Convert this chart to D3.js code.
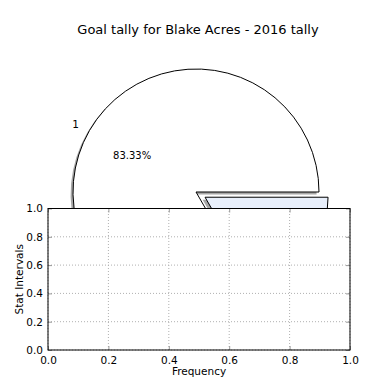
<!DOCTYPE html>
<html lang="en">
<head>
    <title>Goal tally pie</title>
    <script src="https://d3js.org/d3.v7.min.js"></script>
    <style>
        body { margin: 0; background: #fff; }
        text { font-family: "DejaVu Sans", sans-serif; fill: #000; }
    </style>
</head>
<body>
    <div id="chart"></div>

    <script>
        // Pie data
        const categories = ["1", "0"];
        const values = [5, 1];
        const colors = ["#ffffff", "#e8effb"];
        const explode = [0, 0.085];

        // Empty axes ticks
        const xTicks = [0, 0.2, 0.4, 0.6, 0.8, 1.0];
        const yTicks = [0, 0.2, 0.4, 0.6, 0.8, 1.0];

        const width = 390;
        const height = 390;

        const svg = d3.select("#chart")
            .append("svg")
            .attr("width", width)
            .attr("height", height);

        // Title
        svg.append("text")
            .attr("x", 198)
            .attr("y", 33.5)
            .attr("text-anchor", "middle")
            .style("font-size", "13px")
            .text("Goal tally for Blake Acres - 2016 tally");

        // Pie (drawn first, the axes cover its lower half)
        const cx = 196, cy = 192, r = 123;
        const total = d3.sum(values);

        // matplotlib starts at 3 o'clock and runs counter-clockwise
        const pie = d3.pie()
            .sort(null)
            .startAngle(Math.PI / 2)
            .endAngle(Math.PI / 2 - 2 * Math.PI);

        const arcs = pie(values);
        const arc = d3.arc().innerRadius(0).outerRadius(r);

        const pieG = svg.append("g");

        arcs.forEach((a, i) => {
            const mid = (a.startAngle + a.endAngle) / 2;
            const ox = Math.sin(mid) * explode[i] * r;
            const oy = -Math.cos(mid) * explode[i] * r;

            // shadow
            pieG.append("path")
                .attr("transform", `translate(${cx + ox - 2.4},${cy + oy + 2.4})`)
                .attr("d", arc(a))
                .attr("fill", "#4d4d4d")
                .attr("fill-opacity", 0.5);

            // wedge
            pieG.append("path")
                .attr("transform", `translate(${cx + ox},${cy + oy})`)
                .attr("d", arc(a))
                .attr("fill", colors[i])
                .attr("stroke", "#000")
                .attr("stroke-width", 1);

            // label
            pieG.append("text")
                .attr("x", cx + ox + Math.sin(mid) * 1.1 * r)
                .attr("y", cy + oy - Math.cos(mid) * 1.1 * r)
                .attr("text-anchor", Math.sin(mid) < 0 ? "end" : "start")
                .attr("dominant-baseline", "central")
                .style("font-size", "10.5px")
                .text(categories[i]);

            // percentage
            pieG.append("text")
                .attr("x", cx + ox + Math.sin(mid) * 0.6 * r)
                .attr("y", cy + oy - Math.cos(mid) * 0.6 * r)
                .attr("text-anchor", "middle")
                .attr("dominant-baseline", "central")
                .style("font-size", "10px")
                .text((values[i] / total * 100).toFixed(2) + "%");
        });

        // Axes
        const x = d3.scaleLinear().domain([0, 1]).range([48, 350]);
        const y = d3.scaleLinear().domain([0, 1]).range([350, 208.5]);

        const axG = svg.append("g");

        axG.append("rect")
            .attr("x", x(0))
            .attr("y", y(1))
            .attr("width", x(1) - x(0))
            .attr("height", y(0) - y(1))
            .attr("fill", "#fff");

        // dotted grid
        axG.selectAll(".gx")
            .data(xTicks)
            .enter()
            .append("line")
            .attr("x1", d => x(d)).attr("x2", d => x(d))
            .attr("y1", y(0)).attr("y2", y(1))
            .attr("stroke", "#b0b0b0")
            .attr("stroke-dasharray", "1,2");

        axG.selectAll(".gy")
            .data(yTicks)
            .enter()
            .append("line")
            .attr("y1", d => y(d)).attr("y2", d => y(d))
            .attr("x1", x(0)).attr("x2", x(1))
            .attr("stroke", "#b0b0b0")
            .attr("stroke-dasharray", "1,2");

        // inward ticks on all sides
        const tickColor = "#999";
        const axBottom = axG.append("g")
            .attr("transform", `translate(0,${y(0)})`)
            .call(d3.axisBottom(x).tickValues(xTicks).tickSize(-4).tickPadding(7).tickFormat(d3.format(".1f")));
        const axLeft = axG.append("g")
            .attr("transform", `translate(${x(0)},0)`)
            .call(d3.axisLeft(y).tickValues(yTicks).tickSize(-4).tickPadding(5).tickFormat(d3.format(".1f")));
        const axTop = axG.append("g")
            .attr("transform", `translate(0,${y(1)})`)
            .call(d3.axisTop(x).tickValues(xTicks).tickSize(-4).tickFormat(""));
        const axRight = axG.append("g")
            .attr("transform", `translate(${x(1)},0)`)
            .call(d3.axisRight(y).tickValues(yTicks).tickSize(-4).tickFormat(""));

        [axBottom, axLeft, axTop, axRight].forEach(g => {
            g.select(".domain").remove();
            g.selectAll(".tick line").attr("stroke", tickColor);
            g.selectAll(".tick text")
                .style("font-family", "DejaVu Sans, sans-serif")
                .style("font-size", "10.5px")
                .attr("fill", "#000");
        });

        // frame
        axG.append("rect")
            .attr("x", x(0))
            .attr("y", y(1))
            .attr("width", x(1) - x(0))
            .attr("height", y(0) - y(1))
            .attr("fill", "none")
            .attr("stroke", "#000")
            .attr("stroke-width", 1);

        // axis labels
        svg.append("text")
            .attr("x", (x(0) + x(1)) / 2)
            .attr("y", 374.5)
            .attr("text-anchor", "middle")
            .style("font-size", "10.5px")
            .text("Frequency");

        svg.append("text")
            .attr("transform", `translate(22.5,${(y(0) + y(1)) / 2}) rotate(-90)`)
            .attr("text-anchor", "middle")
            .style("font-size", "10.5px")
            .text("Stat Intervals");
    </script>
</body>
</html>
